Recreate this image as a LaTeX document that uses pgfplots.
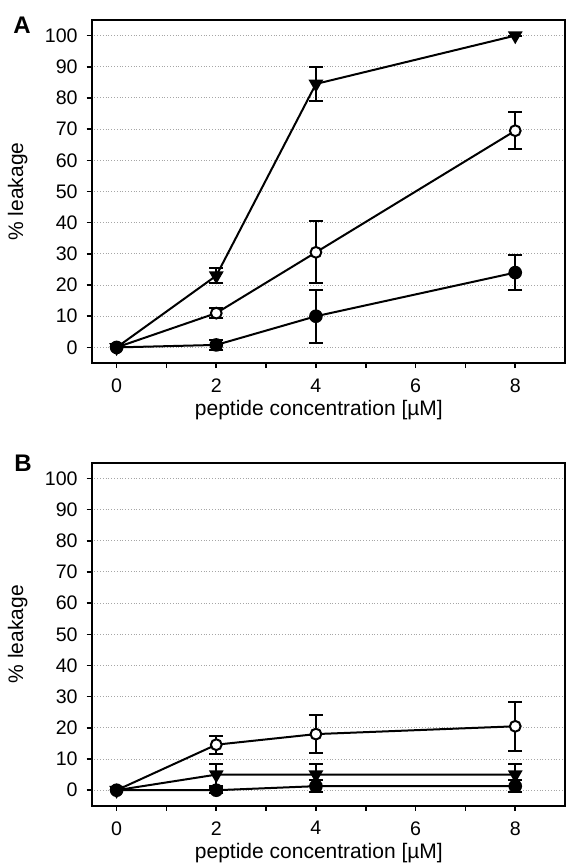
\documentclass[border=0pt]{standalone}
\usepackage{pgfplots}
\pgfplotsset{compat=1.18}
\usepackage{fontspec}
\setmainfont{Liberation Sans}

% leakage data: x, mean, error
\pgfplotstableread{
x y e
0 0 0
2 23 2.5
4 84.5 5.5
8 100 0
}\Atri
\pgfplotstableread{
x y e
0 0 0
2 11 1.5
4 30.5 10
8 69.5 6
}\Aopen
\pgfplotstableread{
x y e
0 0 0
2 0.8 1.5
4 10 8.5
8 24 5.5
}\Afill
\pgfplotstableread{
x y e
0 0 0
2 5 3.5
4 5 3.5
8 5 3.5
}\Btri
\pgfplotstableread{
x y e
0 0 0
2 14.6 2.9
4 18 6.1
8 20.5 7.8
}\Bopen
\pgfplotstableread{
x y e
0 0 0
2 0 0.8
4 1.3 2
8 1.3 2
}\Bfill

\pgfplotsset{
  leak/.style={
    width=236.7pt, height=171.5pt, scale only axis,
    xmin=-0.5, xmax=9, ymin=-5, ymax=105,
    xtick={0,2,4,6,8}, minor xtick={1,3,5,7},
    ytick={0,10,...,100},
    tick align=outside, tick pos=left,
    major tick length=2.5pt, minor tick length=2.5pt,
    every tick/.style={black, line width=0.8pt},
    axis line style={line width=1pt},
    ymajorgrids,
    grid style={densely dotted, gray!70, line width=0.5pt},
    /pgf/number format/assume math mode=true,
    xticklabel style={font=\fontsize{9.8}{11}\selectfont, yshift=-1.8pt},
    yticklabel style={font=\fontsize{9.8}{11}\selectfont, xshift=-1pt},
    label style={font=\fontsize{10.5}{12}\selectfont},
    xlabel={peptide concentration [µM]},
    ylabel={\% leakage},
    xlabel style={at={(axis description cs:0.48,0)}, anchor=center, yshift=-23.5pt},
    ylabel style={at={(axis description cs:0,0.5)}, anchor=center, yshift=37pt},
    clip=false,
  },
  ser/.style={black, line width=1pt,
    error bars/y dir=both, error bars/y explicit,
    error bars/error bar style={line width=1pt},
    error bars/error mark options={rotate=90, mark size=3.5pt, line width=1pt}},
  tri/.style={mark=triangle*, mark size=3.3pt, mark options={rotate=180, fill=black}},
  opn/.style={mark=*, mark size=2.7pt, mark options={fill=white, line width=1pt}},
  fll/.style={mark=*, mark size=2.9pt, mark options={fill=black}},
}

\begin{document}
\begin{tikzpicture}
\path[use as bounding box] (0,0) rectangle (283pt,-432pt);

\begin{axis}[leak, at={(45.85pt,-181.5pt)}, anchor=south west]
\addplot[ser, tri] table[x=x, y=y, y error=e] {\Atri};
\addplot[ser, opn] table[x=x, y=y, y error=e] {\Aopen};
\addplot[ser, fll] table[x=x, y=y, y error=e] {\Afill};
\end{axis}
\node[font=\bfseries\fontsize{12}{14}\selectfont] at (11pt,-12.5pt) {A};

\begin{axis}[leak, at={(45.85pt,-402.9pt)}, anchor=south west]
\addplot[ser, tri] table[x=x, y=y, y error=e] {\Btri};
\addplot[ser, opn] table[x=x, y=y, y error=e] {\Bopen};
\addplot[ser, fll] table[x=x, y=y, y error=e] {\Bfill};
\end{axis}
\node[font=\bfseries\fontsize{12}{14}\selectfont] at (11.5pt,-231.5pt) {B};
\end{tikzpicture}
\end{document}
